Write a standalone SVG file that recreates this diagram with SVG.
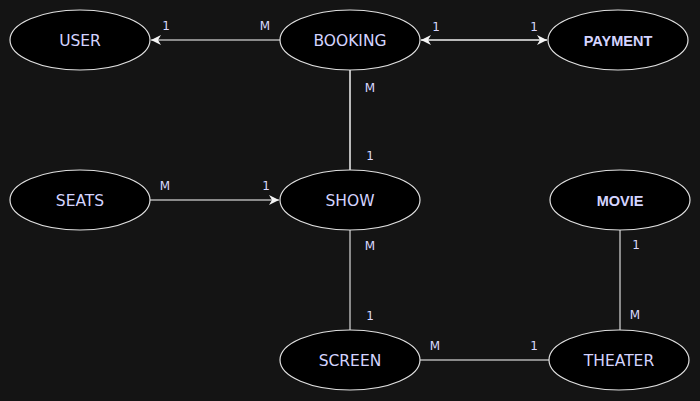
<svg xmlns="http://www.w3.org/2000/svg" width="700" height="401" viewBox="0 0 700 401">
<style>
.bg{fill:#141414}
.n ellipse{fill:#000;stroke:#e0e0e0;stroke-width:1.2}
.n text{font-family:"DejaVu Sans",sans-serif;font-size:15.5px;fill:#d4d4ff;text-anchor:middle}
.n text.b{font-weight:bold;font-family:"Liberation Sans",Arial,sans-serif;font-size:14.5px}
.g{stroke:#8a8a8a;stroke-width:2;fill:none}
.w{stroke:#f0f0f0;stroke-width:1.5;fill:none}
.lbl{font-family:"DejaVu Sans",sans-serif;font-size:12px;fill:#d8d8ff;text-anchor:middle}
</style>
<defs>
<marker id="ah" viewBox="0 0 10 10" refX="10" refY="5" markerWidth="10" markerHeight="10" markerUnits="userSpaceOnUse" orient="auto-start-reverse">
<path d="M0,0 L10,5 L0,10 L3,5 Z" fill="#f5f5f5"/>
</marker>
</defs>
<rect class="bg" x="0" y="0" width="700" height="401"/>
<g id="connectors">
<line class="g" x1="280" y1="40" x2="151" y2="40" marker-end="url(#ah)"/>
<line class="w" x1="421" y1="40" x2="547" y2="40" marker-start="url(#ah)" marker-end="url(#ah)"/>
<line class="w" x1="350" y1="70" x2="350" y2="170"/>
<line class="g" x1="150" y1="200" x2="279" y2="200" marker-end="url(#ah)"/>
<line class="g" x1="350" y1="230" x2="350" y2="330"/>
<line class="g" x1="420" y1="360" x2="550" y2="360"/>
<line class="g" x1="620" y1="230" x2="620" y2="330"/>
<text class="lbl" x="166" y="30">1</text>
<text class="lbl" x="265" y="30">M</text>
<text class="lbl" x="436" y="31">1</text>
<text class="lbl" x="534" y="31">1</text>
<text class="lbl" x="370" y="92">M</text>
<text class="lbl" x="370" y="160">1</text>
<text class="lbl" x="165" y="190">M</text>
<text class="lbl" x="266" y="190">1</text>
<text class="lbl" x="370" y="250">M</text>
<text class="lbl" x="370" y="320">1</text>
<text class="lbl" x="435" y="350">M</text>
<text class="lbl" x="534" y="350">1</text>
<text class="lbl" x="636" y="249">1</text>
<text class="lbl" x="635" y="319">M</text>
</g>
<g id="user" class="n"><ellipse cx="80" cy="40" rx="70" ry="30"/><text x="80" y="46">USER</text></g>
<g id="booking" class="n"><ellipse cx="350" cy="40" rx="70" ry="30"/><text x="350" y="46">BOOKING</text></g>
<g id="payment" class="n"><ellipse cx="618" cy="40" rx="70" ry="30"/><text class="b" x="618" y="45.5">PAYMENT</text></g>
<g id="seats" class="n"><ellipse cx="80" cy="200" rx="70" ry="30"/><text x="80" y="206">SEATS</text></g>
<g id="show" class="n"><ellipse cx="350" cy="200" rx="70" ry="30"/><text x="350" y="206">SHOW</text></g>
<g id="movie" class="n"><ellipse cx="620" cy="200" rx="70" ry="30"/><text class="b" x="620" y="205.5">MOVIE</text></g>
<g id="screen" class="n"><ellipse cx="350" cy="360" rx="70" ry="30"/><text x="350" y="366">SCREEN</text></g>
<g id="theater" class="n"><ellipse cx="619" cy="360" rx="70" ry="30"/><text x="619" y="366">THEATER</text></g>
</svg>
